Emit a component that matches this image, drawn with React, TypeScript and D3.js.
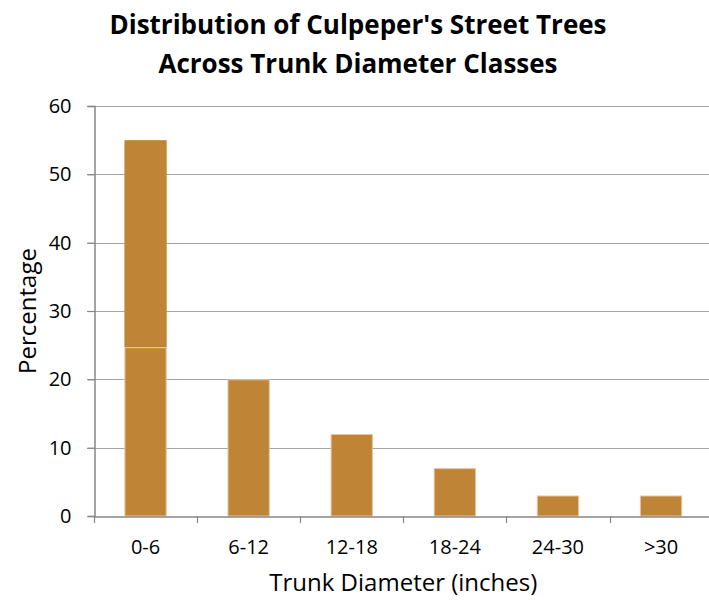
import React, { useEffect, useRef } from 'react';
import * as d3 from 'd3';

const categories = ['0-6', '6-12', '12-18', '18-24', '24-30', '>30'];
// first bar is drawn as two pieces in the source picture
const baseValues = [24.7, 20, 12, 7, 3, 3];
const topValues = [30.3, 0, 0, 0, 0, 0];
const yTicks = [0, 10, 20, 30, 40, 50, 60];

const W = 709;
const H = 600;

const App: React.FC = () => {
  const svgRef = useRef<SVGSVGElement>(null);

  useEffect(() => {
    if (!svgRef.current) return;
    const svg = d3.select(svgRef.current);
    svg.selectAll('*').remove();

    const font = "'Open Sans', sans-serif";
    const left = 94, right = 712.6, top = 106, bottom = 516;

    const x = d3.scaleBand<string>().domain(categories).range([left, right]).paddingInner(0.59).paddingOuter(0.295);
    const y = d3.scaleLinear().domain([0, 60]).range([bottom, top]);

    // Title
    const title = svg.append('text')
      .attr('x', 358)
      .attr('text-anchor', 'middle')
      .attr('font-family', font)
      .attr('font-weight', 700)
      .attr('font-size', '26px')
      .attr('fill', '#000');
    title.append('tspan').attr('x', 358).attr('y', 34).text("Distribution of Culpeper's Street Trees");
    title.append('tspan').attr('x', 358).attr('y', 73).text('Across Trunk Diameter Classes');

    // Gridlines
    svg.append('g').selectAll('line')
      .data(yTicks.filter(t => t > 0))
      .enter()
      .append('line')
      .attr('x1', left - 7)
      .attr('x2', W)
      .attr('y1', d => Math.round(y(d)) + 0.5)
      .attr('y2', d => Math.round(y(d)) + 0.5)
      .attr('stroke', '#a6a6a6')
      .attr('stroke-width', 1.2);

    // Bars
    const rows = categories.map((c, i) => ({ cat: c, base: baseValues[i], top: topValues[i] }));
    const stacked = d3.stack<any>().keys(['base', 'top'])(rows);

    svg.append('g').selectAll('rect')
      .data(stacked[1].filter(d => d[1] > d[0]))
      .enter()
      .append('rect')
      .attr('x', d => x(d.data.cat)!)
      .attr('y', d => y(d[1]))
      .attr('width', x.bandwidth())
      .attr('height', d => y(d[0]) - y(d[1]))
      .attr('fill', '#c08436');

    svg.append('g').selectAll('rect')
      .data(stacked[0])
      .enter()
      .append('rect')
      .attr('x', d => x(d.data.cat)! + 0.5)
      .attr('y', d => y(d[1]) + 0.5)
      .attr('width', x.bandwidth() - 1)
      .attr('height', d => y(d[0]) - y(d[1]) - 0.5)
      .attr('fill', '#c08436')
      .attr('stroke', '#e6c49a')
      .attr('stroke-width', 1);

    // Y axis
    const yAxis = svg.append('g').attr('transform', `translate(${left + 0.5},0)`)
      .call(d3.axisLeft(y).tickValues(yTicks).tickSize(7).tickPadding(10).tickFormat(d3.format('d')));
    yAxis.select('.domain').attr('stroke', '#868686').attr('stroke-width', 1.5);
    yAxis.selectAll('.tick line').attr('stroke', '#868686').attr('stroke-width', 1.2);
    yAxis.selectAll('.tick text')
      .attr('font-family', font)
      .attr('font-size', '20px')
      .attr('fill', '#000')
      .attr('x', -23);

    // X axis
    const xAxis = svg.append('g').attr('transform', `translate(0,${bottom + 0.5})`)
      .call(d3.axisBottom(x).tickSize(0).tickPadding(23));
    xAxis.select('.domain').attr('stroke', '#868686').attr('stroke-width', 1.5);
    xAxis.selectAll('.tick text')
      .attr('font-family', font)
      .attr('font-size', '20px')
      .attr('fill', '#000');

    const step = x.step();
    svg.append('g').selectAll('line')
      .data(d3.range(categories.length + 1))
      .enter()
      .append('line')
      .attr('x1', i => Math.round(left + i * step) + 0.5)
      .attr('x2', i => Math.round(left + i * step) + 0.5)
      .attr('y1', bottom)
      .attr('y2', bottom + 7)
      .attr('stroke', '#868686')
      .attr('stroke-width', 1.2);

    // Axis titles
    svg.append('text')
      .attr('x', (left + right) / 2)
      .attr('y', 591)
      .attr('text-anchor', 'middle')
      .attr('font-family', font)
      .attr('font-size', '24px')
      .attr('fill', '#000')
      .text('Trunk Diameter (inches)');

    svg.append('text')
      .attr('transform', `translate(36,${(top + bottom) / 2}) rotate(-90)`)
      .attr('text-anchor', 'middle')
      .attr('font-family', font)
      .attr('font-size', '24px')
      .attr('fill', '#000')
      .text('Percentage');
  }, []);

  return (
    <svg ref={svgRef} width={W} height={H} viewBox={`0 0 ${W} ${H}`}
      style={{ position: 'absolute', left: 0, top: 0, background: '#fff' }} />
  );
};

export default App;
